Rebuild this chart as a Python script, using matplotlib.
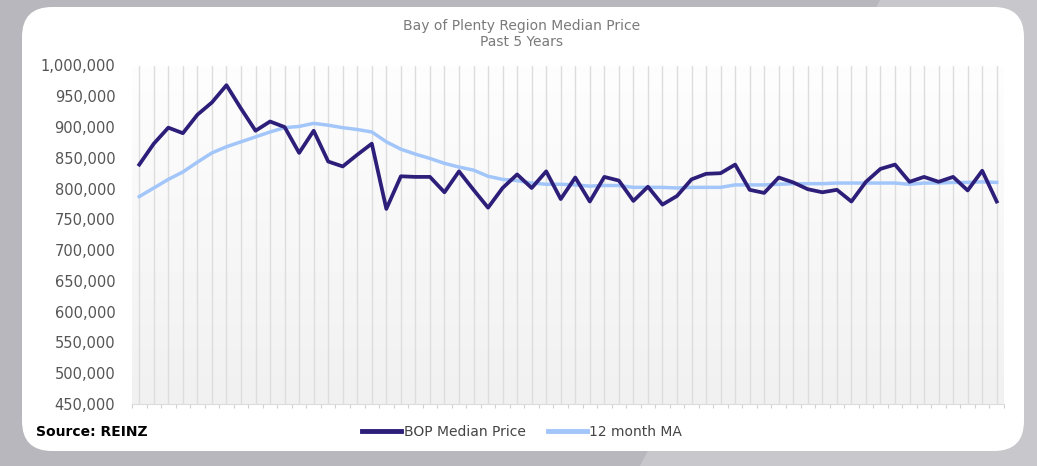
import numpy as np
import matplotlib
matplotlib.use("Agg")
import matplotlib.pyplot as plt
from matplotlib.patches import FancyBboxPatch, Polygon
from matplotlib.ticker import FuncFormatter, MultipleLocator

# monthly median price, last 60 months
bop_median = [839000, 873000, 899000, 890000, 920000, 940000, 968000, 930000, 894000, 909000,
              900000, 858000, 894000, 844000, 836000, 855000, 873000, 767000, 820000, 819000,
              819000, 794000, 828000, 798000, 769000, 801000, 823000, 801000, 828000, 783000,
              818000, 779000, 819000, 813000, 780000, 803000, 774000, 788000, 815000, 824000,
              825000, 839000, 798000, 793000, 818000, 810000, 799000, 794000, 798000, 779000,
              811000, 832000, 839000, 811000, 819000, 811000, 819000, 797000, 829000, 779000]
ma_12 = [787000, 801000, 815000, 827000, 843000, 858000, 868000, 876000, 884000, 892000,
         899000, 901000, 906000, 903000, 899000, 896000, 892000, 876000, 864000, 856000,
         849000, 841000, 835000, 830000, 820000, 815000, 813000, 809000, 807000, 807000,
         806000, 804000, 805000, 805000, 802000, 802000, 802000, 801000, 802000, 802000,
         802000, 806000, 806000, 806000, 807000, 808000, 808000, 808000, 809000, 809000,
         809000, 809000, 809000, 807000, 809000, 809000, 810000, 810000, 811000, 810000]

title = "Bay of Plenty Region Median Price\nPast 5 Years"
dark = "#2d1e7a"
light = "#a3c6fa"

W, H = 1037, 466
fig = plt.figure(figsize=(W / 100, H / 100), dpi=100)

# backdrop: grey page with a white rounded card
bg = fig.add_axes([0, 0, 1, 1])
bg.set_xlim(0, W)
bg.set_ylim(H, 0)
bg.axis("off")
bg.add_patch(Polygon([[0, 0], [W, 0], [W, H], [0, H]], color="#b8b7bd", zorder=0))
bg.add_patch(Polygon([[880, 0], [W, 0], [W, H], [640, H]], color="#c8c7cc", zorder=0))
bg.add_patch(FancyBboxPatch((22, 7), 1002, 444, boxstyle="round,pad=0,rounding_size=30",
                            fc="white", ec="none", zorder=1))

ax = fig.add_axes([132 / W, 1 - 404 / H, 872 / W, (404 - 65.5) / H])
x = np.arange(len(bop_median))

# faint vertical gradient behind the plot, white at top
grad = np.linspace(0, 1, 100).reshape(-1, 1)
cmap = matplotlib.colors.LinearSegmentedColormap.from_list("g", ["#fefefe", "#f1f1f1"])
ax.imshow(grad, cmap=cmap, extent=[-0.5, len(x) - 0.5, 450000, 1000000],
          aspect="auto", zorder=0)

ax.plot(x, bop_median, color=dark, lw=2.7, label="BOP Median Price", zorder=3)
ax.plot(x, ma_12, color=light, lw=2.5, label="12 month MA", zorder=2)

ax.set_xlim(-0.5, len(x) - 0.5)
ax.set_ylim(450000, 1000000)
ax.yaxis.set_major_locator(MultipleLocator(50000))
ax.yaxis.set_major_formatter(FuncFormatter(lambda v, p: f"{int(v):,}"))
ax.tick_params(axis="y", length=0, pad=12, labelsize=10.5, labelcolor="#555555")

ax.set_xticks(x)
ax.set_xticklabels([])
ax.tick_params(axis="x", which="major", length=0)
ax.set_xticks(np.arange(-0.5, len(x)), minor=True)
ax.tick_params(axis="x", which="minor", length=3, color="#d0d0d0", width=0.8)
ax.grid(axis="x", which="major", color="#dddddd", lw=1)
for g in ax.get_xgridlines():
    g.set_zorder(1)

for s in ["top", "left", "right"]:
    ax.spines[s].set_visible(False)
ax.spines["bottom"].set_color("#dcdcdc")

fig.text(522 / W, 1 - 34 / H, title, ha="center", va="center", fontsize=10, color="#7a7a7a",
         linespacing=1.15)
fig.text(36 / W, 1 - 432 / H, "Source: REINZ", ha="left", va="center", fontsize=10,
         fontweight="bold", color="black")

leg = ax.legend(loc="center", bbox_to_anchor=(522 / W, 1 - 432 / H), bbox_transform=fig.transFigure,
                ncol=2, frameon=False, fontsize=10, handlelength=2.8, handletextpad=0.2,
                columnspacing=1.6, labelcolor="#444444")
for ln in leg.get_lines():
    ln.set_linewidth(3.5)

fig.savefig("out.png", dpi=100)
